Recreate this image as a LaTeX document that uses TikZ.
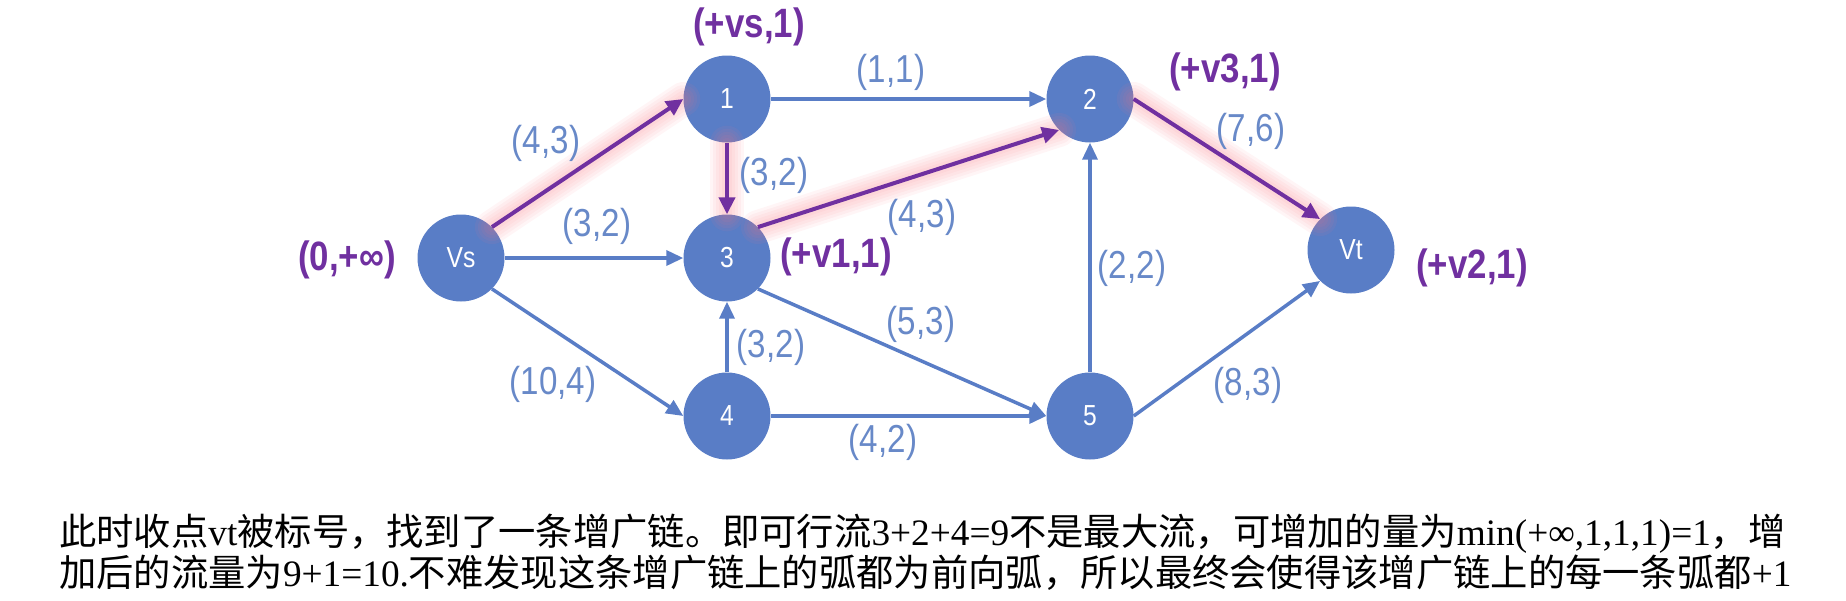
\documentclass[tikz,border=0pt]{standalone}
\usepackage{fontspec}
\setmainfont{Liberation Serif}
\newfontfamily\cjk{Noto Sans CJK SC}
\newfontfamily\labfont[FakeStretch=0.85]{Liberation Sans}
\usetikzlibrary{arrows.meta}

\definecolor{nodeblue}{RGB}{89,125,198}
\definecolor{textblue}{RGB}{104,137,200}
\definecolor{augpurple}{RGB}{112,48,160}
\definecolor{glowpink}{RGB}{250,120,130}

\newcommand{\zh}[1]{{\cjk #1}}

\begin{document}
\begin{tikzpicture}[x=1pt, y=-1pt,
  vertex/.style={circle, fill=nodeblue, minimum size=87pt, inner sep=0pt, text=white, font=\labfont\fontsize{29}{29}\selectfont},
  flow/.style={draw=nodeblue, line width=3.5pt, -{Triangle[length=17pt, width=15pt]}},
  augment/.style={draw=augpurple, line width=4pt, -{Triangle[length=17pt, width=16pt]}},
  halo/.style={draw=glowpink, line width=#1, opacity=0.07, line cap=round},
  capflow/.style={text=textblue, font=\labfont\fontsize{39}{39}\selectfont},
  tag/.style={text=augpurple, font=\labfont\bfseries\fontsize{41}{41}\selectfont}]
\useasboundingbox (0,0) rectangle (1846,600);

\def\colvs{461}
\def\colmid{727}
\def\colright{1090}
\def\colvt{1351}
\def\rowtop{99}
\def\rowmid{258}
\def\rowlow{416}

%Vertices
\node[vertex] (vs) at (\colvs,\rowmid) {Vs};
\node[vertex] (v1) at (\colmid,\rowtop) {1};
\node[vertex] (v2) at (\colright,\rowtop) {2};
\node[vertex] (v3) at (\colmid,\rowmid) {3};
\node[vertex] (v4) at (\colmid,\rowlow) {4};
\node[vertex] (v5) at (\colright,\rowlow) {5};
\node[vertex] (vt) at (\colvt,250) {Vt};

%Glow round the augmenting chain
\foreach \w in {34,28,22,16,10}{
  \draw[halo=\w pt] (vs.north east) -- (v1.west);
  \draw[halo=\w pt] (v1.south) -- (v3.north);
  \draw[halo=\w pt] (v3.north east) -- (v2.south west);
  \draw[halo=\w pt] (v2.east) -- (vt.north west);
}

%Edges
\draw[flow] (vs.east) -- (v3.west);
\draw[flow] (vs.south east) -- (v4.west);
\draw[flow] (v1.east) -- (v2.west);
\draw[flow] (v4.north) -- (v3.south);
\draw[flow] (v3.south east) -- (v5.west);
\draw[flow] (v4.east) -- (v5.west);
\draw[flow] (v5.north) -- (v2.south);
\draw[flow] (v5.east) -- (vt.south west);
%augmenting chain
\draw[augment] (vs.north east) -- (v1.west);
\draw[augment] (v1.south) -- (v3.north);
\draw[augment] (v3.north east) -- (v2.south west);
\draw[augment] (v2.east) -- (vt.north west);

%Capacity and flow
\node[capflow] (cs1) at (546,143) {(4,3)};
\node[capflow] (cs3) at (597,226) {(3,2)};
\node[capflow] (cs4) at (553,384) {(10,4)};
\node[capflow] (c12) at (891,72) {(1,1)};
\node[capflow] (c13) at (774,175) {(3,2)};
\node[capflow] (c32) at (922,217) {(4,3)};
\node[capflow] (c43) at (771,347) {(3,2)};
\node[capflow] (c35) at (921,324) {(5,3)};
\node[capflow] (c45) at (883,442) {(4,2)};
\node[capflow] (c52) at (1132,268) {(2,2)};
\node[capflow] (c2t) at (1251,131) {(7,6)};
\node[capflow] (c5t) at (1248,385) {(8,3)};

%Labels
\node[tag] (lvs) at (347,260) {(0,+∞)};
\node[tag] (lv1) at (749,27) {(+vs,1)};
\node[tag] (lv3) at (836,257) {(+v1,1)};
\node[tag] (lv2) at (1225,72) {(+v3,1)};
\node[tag] (lvt) at (1472,268) {(+v2,1)};

%Note
\node[anchor=base west, inner sep=0pt, font=\fontsize{37.3}{41}\selectfont] (note1) at (59,545)
  {\zh{此时收点}vt\zh{被标号，找到了一条增广链。即可行流}3+2+4=9\zh{不是最大流，可增加的量为}min(+∞,1,1,1)=1\zh{，增}};
\node[anchor=base west, inner sep=0pt, font=\fontsize{37.3}{41}\selectfont] (note2) at (59,586)
  {\zh{加后的流量为}9+1=10.\zh{不难发现这条增广链上的弧都为前向弧，所以最终会使得该增广链上的每一条弧都}+1};

\end{tikzpicture}
\end{document}
